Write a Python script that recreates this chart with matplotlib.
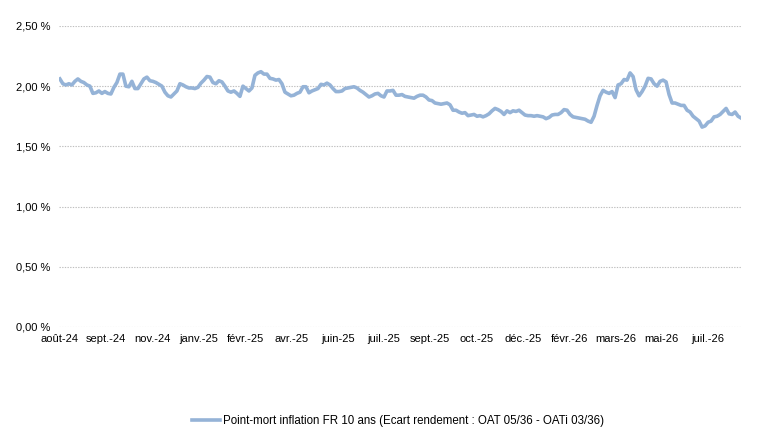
import numpy as np
import matplotlib
matplotlib.use("Agg")
import matplotlib.pyplot as plt
from matplotlib.ticker import FuncFormatter

plt.rcParams['font.family'] = ['Liberation Sans', 'DejaVu Sans']

values = [
    2.06, 2.02, 2.01, 2.02, 2.01, 2.04, 2.06, 2.04, 2.03, 2.01,
    2.00, 1.94, 1.945, 1.96, 1.94, 1.955, 1.94, 1.935, 1.99, 2.03,
    2.10, 2.10, 2.00, 1.995, 2.04, 1.98, 1.98, 2.02, 2.06, 2.075,
    2.045, 2.04, 2.03, 2.015, 2.00, 1.95, 1.92, 1.91, 1.935, 1.96,
    2.02, 2.01, 1.995, 1.985, 1.985, 1.98, 1.99, 2.025, 2.05, 2.08,
    2.075, 2.03, 2.02, 2.045, 2.035, 2.00, 1.96, 1.95, 1.96, 1.94,
    1.915, 2.00, 1.98, 1.96, 1.985, 2.09, 2.11, 2.12, 2.10, 2.10,
    2.065, 2.06, 2.05, 2.055, 2.02, 1.95, 1.935, 1.92, 1.925, 1.94,
    1.95, 1.995, 1.995, 1.945, 1.96, 1.97, 1.98, 2.015, 2.01, 2.025,
    2.01, 1.98, 1.955, 1.955, 1.96, 1.98, 1.985, 1.99, 1.995, 1.985,
    1.965, 1.95, 1.93, 1.91, 1.92, 1.935, 1.94, 1.92, 1.91, 1.96,
    1.96, 1.965, 1.925, 1.925, 1.93, 1.915, 1.91, 1.905, 1.90, 1.915,
    1.925, 1.925, 1.91, 1.885, 1.88, 1.86, 1.855, 1.85, 1.855, 1.86,
    1.845, 1.80, 1.80, 1.785, 1.775, 1.78, 1.755, 1.76, 1.765, 1.75,
    1.755, 1.745, 1.755, 1.77, 1.795, 1.815, 1.805, 1.79, 1.765, 1.795,
    1.78, 1.795, 1.79, 1.80, 1.78, 1.76, 1.755, 1.755, 1.75, 1.755,
    1.75, 1.745, 1.73, 1.74, 1.76, 1.765, 1.765, 1.78, 1.805, 1.80,
    1.765, 1.745, 1.74, 1.735, 1.73, 1.725, 1.71, 1.70, 1.75, 1.84,
    1.92, 1.965, 1.95, 1.94, 1.955, 1.905, 2.01, 2.02, 2.055, 2.05,
    2.11, 2.08, 1.97, 1.92, 1.955, 2.00, 2.065, 2.06, 2.02, 2.00,
    2.04, 2.05, 2.035, 1.93, 1.86, 1.86, 1.85, 1.84, 1.84, 1.80,
    1.785, 1.75, 1.73, 1.71, 1.66, 1.67, 1.70, 1.71, 1.745, 1.75,
    1.765, 1.79, 1.815, 1.77, 1.765, 1.785, 1.75, 1.735,
]

tick_labels = ["août-24", "sept.-24", "nov.-24", "janv.-25", "févr.-25",
               "avr.-25", "juin-25", "juil.-25", "sept.-25", "oct.-25",
               "déc.-25", "févr.-26", "mars-26", "mai-26", "juil.-26"]

y_ticks = [0.0, 0.5, 1.0, 1.5, 2.0, 2.5]

series_name = "Point-mort inflation FR 10 ans (Ecart rendement : OAT 05/36 - OATi 03/36)"

line_color = "#95B3D7"
grid_color = "#BFBFBF"

fig = plt.figure(figsize=(7.66, 4.40), dpi=100)
ax = fig.add_axes([0.077, 0.257, 0.8905, 0.684])

x = np.arange(len(values))
ax.plot(x, values, color=line_color, linewidth=2.6, solid_joinstyle='round',
        label=series_name)

ax.set_ylim(0, 2.5)
ax.set_xlim(-0.3, len(values) - 1)
ax.set_yticks(y_ticks)
ax.yaxis.set_major_formatter(FuncFormatter(lambda v, p: f"{v:.2f}".replace('.', ',') + " %"))

# category-axis style labels evenly spaced
label_step = 15.43
ax.set_xticks(np.arange(len(tick_labels)) * label_step)
ax.set_xticklabels(tick_labels)

ax.grid(axis='y', color=grid_color, linewidth=0.8, linestyle=(0, (1.2, 1.2)))
ax.set_axisbelow(True)
for s in ['top', 'right', 'left', 'bottom']:
    ax.spines[s].set_visible(False)
ax.tick_params(axis='both', length=0, labelsize=8, colors='#000000')
ax.tick_params(axis='y', pad=6)
ax.tick_params(axis='x', pad=5)

fig.legend(loc='lower center', bbox_to_anchor=(0.52, 0.005), frameon=False,
           fontsize=8.3, handlelength=2.4, handletextpad=0.3)

fig.savefig("out.png", dpi=100)
